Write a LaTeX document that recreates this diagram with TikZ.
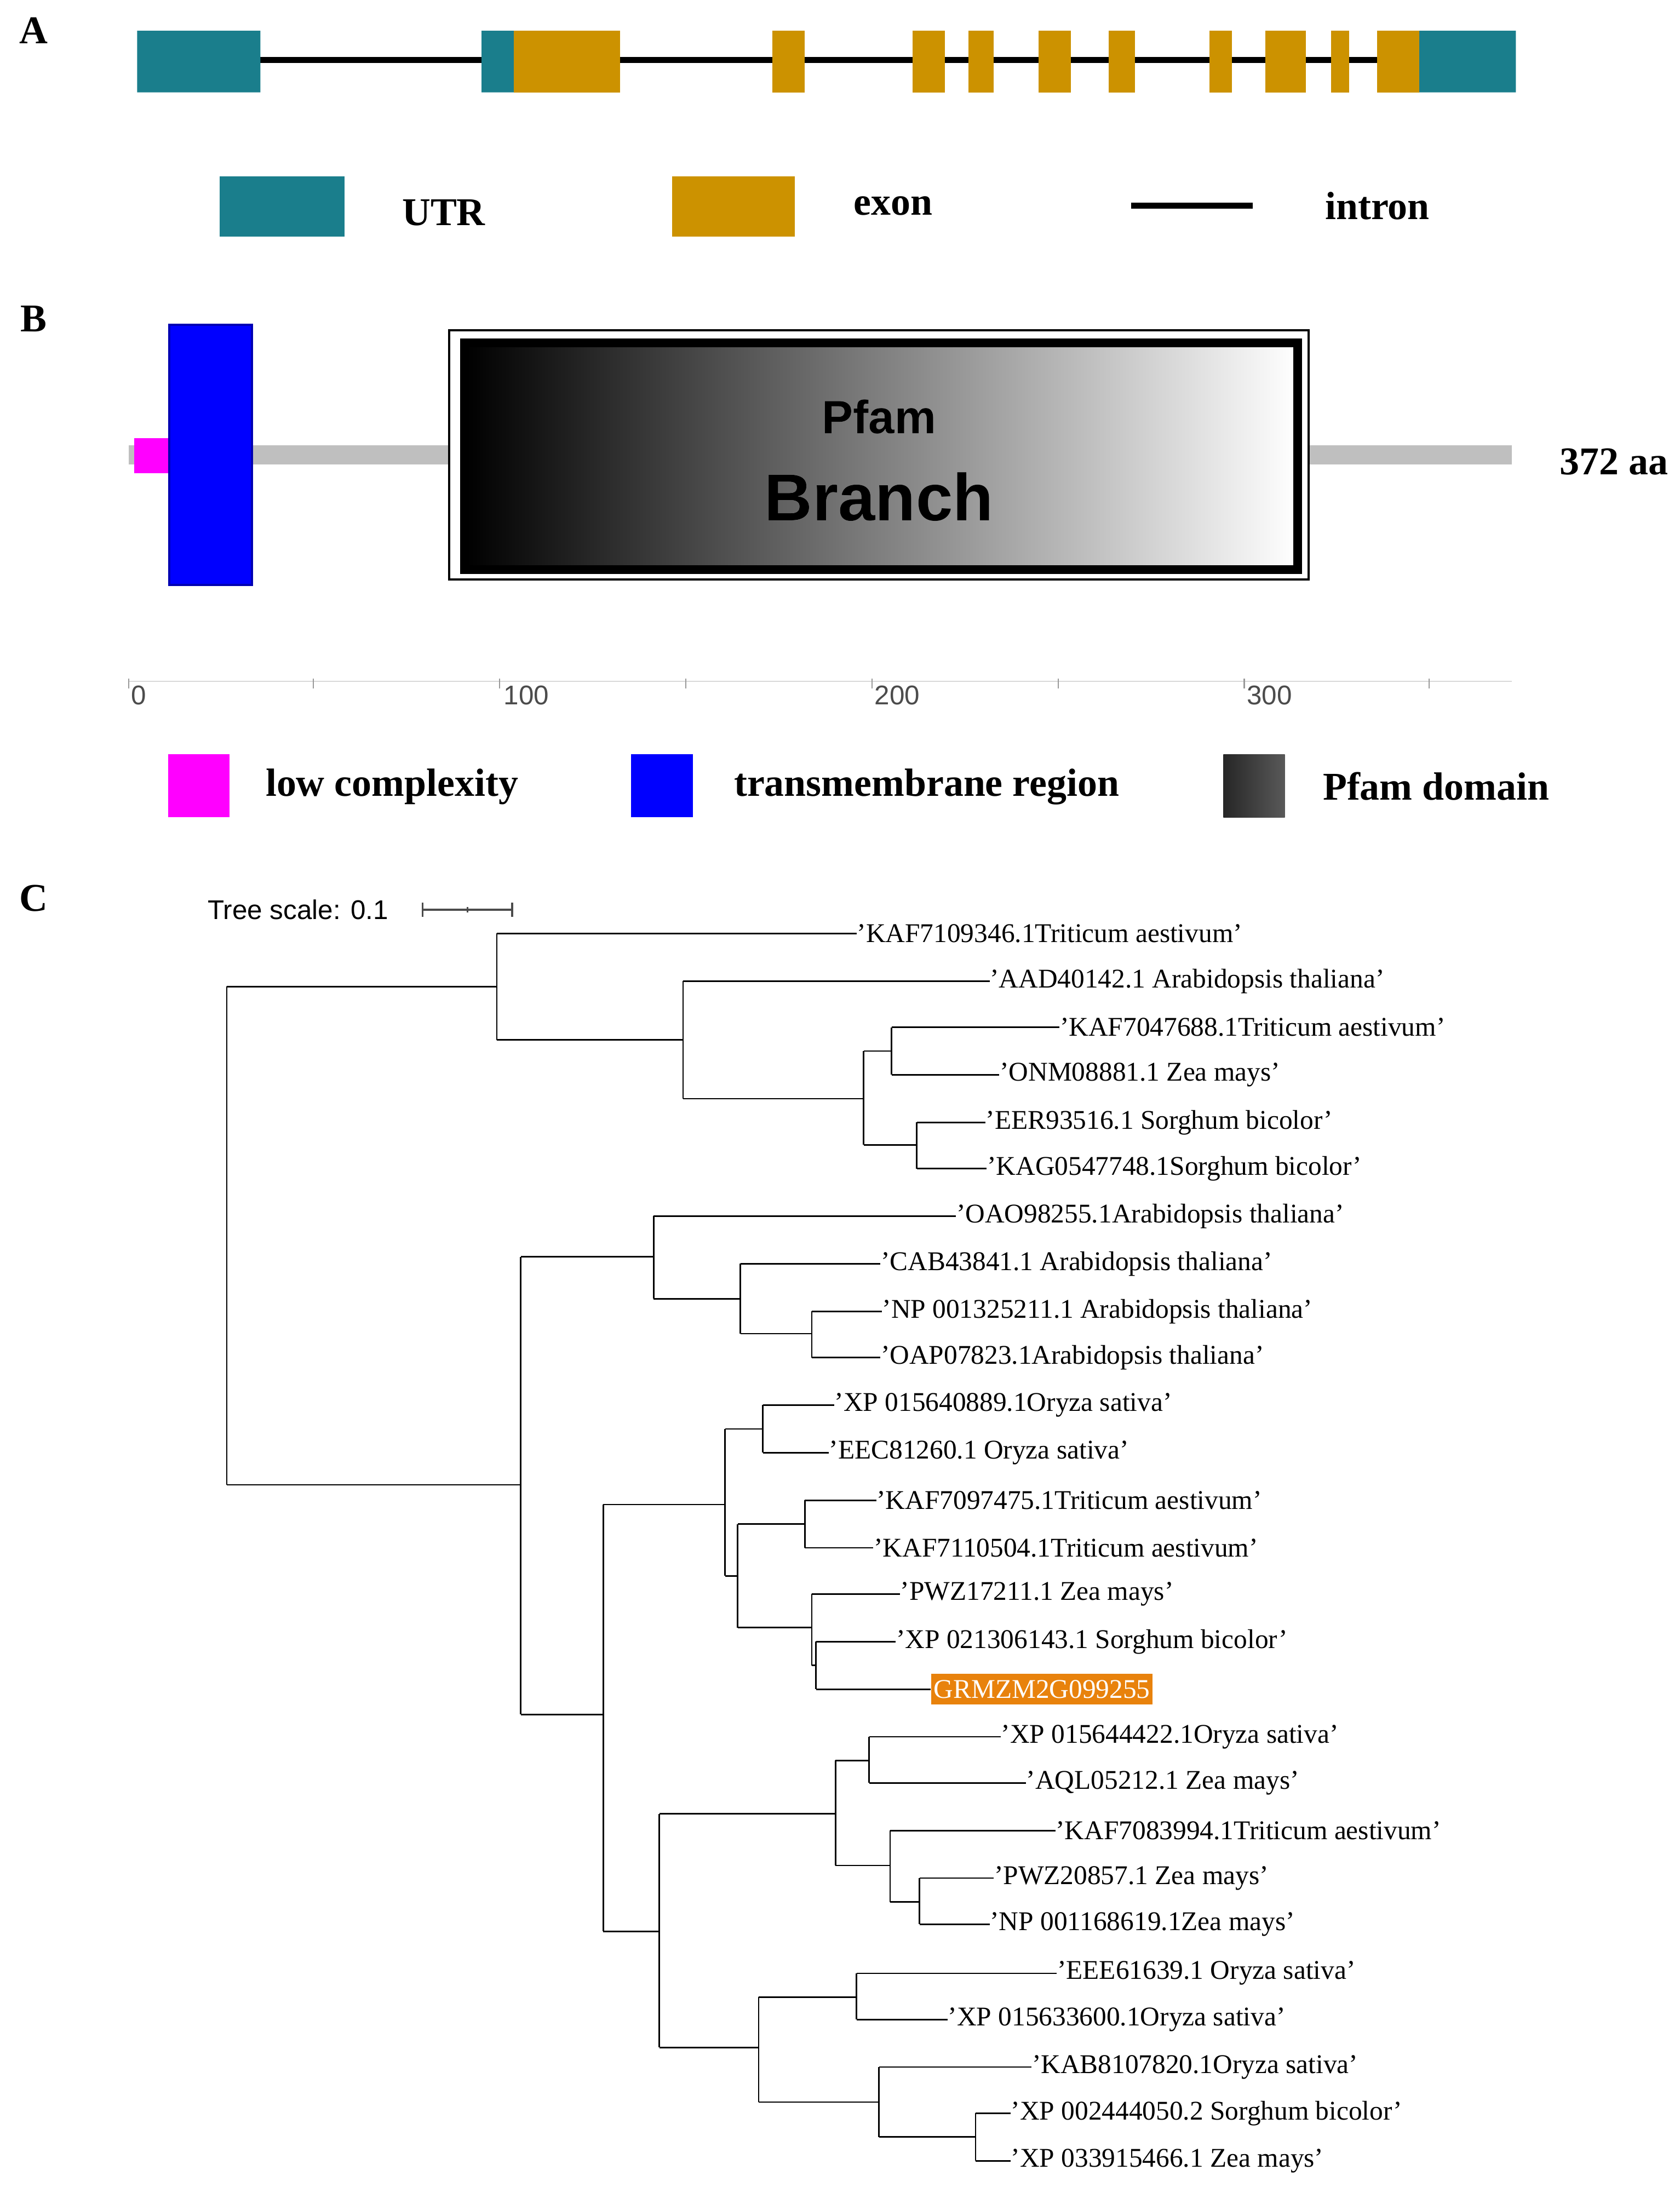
\documentclass[tikz,border=0pt]{standalone}
\usepackage{fontspec}
\setmainfont{Liberation Serif}
\newfontfamily\sansf{Liberation Sans}
\usepackage[outline]{contour}
\contourlength{1.6pt}
\begin{document}
\begin{tikzpicture}[x=0.02cm,y=-0.02cm,
 lab/.style={font=\bfseries\fontsize{16}{18}\selectfont,inner sep=0},
 leg/.style={font=\bfseries\fontsize{16}{18}\selectfont,inner sep=0,anchor=center},
 leaf/.style={anchor=west,inner sep=0,font=\fontsize{11}{12}\selectfont},
 br/.style={line width=0.6pt},
 axl/.style={font=\sansf\fontsize{11}{12}\selectfont,text=black!70,inner sep=0}]
\definecolor{utrc}{HTML}{1A7E8C}
\definecolor{exonc}{HTML}{CC9200}
\definecolor{orng}{HTML}{E8820C}
\definecolor{mag}{RGB}{255,0,255}
\definecolor{blu}{RGB}{0,0,255}
\useasboundingbox[fill=white] (0,0) rectangle (1200,1567);
% ---- A
\node[lab] (lA) at (24,22) {A};
\draw[line width=2.4pt] (186,43) -- (1014,43);
\fill[utrc] (98,22) rectangle (186,66) (344,22) rectangle (367,66) (1014,22) rectangle (1083,66);
\foreach \a/\b in {367/443,552/575,652/675,692/710,742/765,792/811,864/880,904/933,951/964,984/1014}
  \fill[exonc] (\a,22) rectangle (\b,66);
\fill[utrc] (157,126) rectangle (246,169);
\node[leg] (tU) at (317,152) {UTR};
\fill[exonc] (480,126) rectangle (568,169);
\node[leg] (tE) at (638,147) {exon};
\draw[line width=2.4pt] (808,147) -- (895,147);
\node[leg] (tI) at (984,147) {intron};
% ---- B
\node[lab] (lB) at (24,228) {B};
\fill[black!25] (92,318) rectangle (1080,332);
\fill[mag] (96,313) rectangle (122,338);
\draw[fill=blu,draw=blu!70!black,line width=1pt] (121,232) rectangle (180,418);
\draw[fill=white,draw=black,line width=0.8pt] (321,236) rectangle (935,414);
\shade[left color=black,right color=white] (332,245) rectangle (927,407);
\draw[line width=3.5pt] (332,245) rectangle (927,407);
\node[font=\sansf\bfseries\fontsize{19}{20}\selectfont,inner sep=0] (pf) at (628,298) {\contour{white}{Pfam}};
\node[font=\sansf\bfseries\fontsize{27}{28}\selectfont,inner sep=0] (brn) at (628,355) {\contour{white}{Branch}};
\node[lab] (aa) at (1153,330) {372 aa};
\draw[black!15,line width=0.4pt] (92,487) -- (1080,487);
\foreach \t in {92,224,357,490,623,756,889,1021} \draw[black!40,line width=0.5pt] (\t,485) -- (\t,492);
\node[axl] (a0) at (99,497) {0};
\node[axl] (a1) at (376,497) {100};
\node[axl] (a2) at (641,497) {200};
\node[axl] (a3) at (907,497) {300};
\fill[mag] (120,539) rectangle (164,584);
\node[leg] (tl) at (280,562) {low complexity};
\fill[blu] (451,539) rectangle (495,584);
\node[leg] (tt) at (662,562) {transmembrane region};
\shade[left color=black!85,right color=black!65] (874,539) rectangle (918,584);
\node[leg] (tp) at (1026,562) {Pfam domain};
% ---- C
\node[lab] (lC) at (24,642) {C};
\node[font=\sansf\fontsize{11}{12}\selectfont,inner sep=0] (ts) at (213,650) {Tree scale: 0.1};
\draw[black!70,line width=0.8pt] (302,650) -- (366,650) (302,645) -- (302,655) (366,645) -- (366,655) (334,648) -- (334,652);
\newcommand\vl[3]{\draw[br] (#1,#2) -- (#1,#3);}
\newcommand\hl[3]{\draw[br] (#1,#3) -- (#2,#3);}
\newcommand\lf[4]{\draw[br] (#1,#3) -- (#2,#3); \node[leaf] (#4) at (#2,#3)}
\vl{162}{705}{1061}
\hl{162}{355}{705} \hl{162}{372}{1061}
\vl{355}{667}{743}
\lf{355}{612}{667}{L1} {'KAF7109346.1Triticum aestivum'};
\hl{355}{488}{743}
\vl{488}{701}{785}
\lf{488}{707}{701}{L2} {'AAD40142.1 Arabidopsis thaliana'};
\hl{488}{617}{785}
\vl{617}{751}{818}
\hl{617}{637}{751} \vl{637}{734}{768}
\lf{637}{757}{734}{L3} {'KAF7047688.1Triticum aestivum'};
\lf{637}{714}{768}{L4} {'ONM08881.1 Zea mays'};
\hl{617}{655}{818} \vl{655}{802}{835}
\lf{655}{704}{802}{L5} {'EER93516.1 Sorghum bicolor'};
\lf{655}{705}{835}{L6} {'KAG0547748.1Sorghum bicolor'};
\vl{372}{898}{1225}
\hl{372}{467}{898} \vl{467}{869}{928}
\lf{467}{683}{869}{L7} {'OAO98255.1Arabidopsis thaliana'};
\hl{467}{529}{928} \vl{529}{903}{953}
\lf{529}{629}{903}{L8} {'CAB43841.1 Arabidopsis thaliana'};
\hl{529}{580}{953} \vl{580}{937}{970}
\lf{580}{630}{937}{L9} {'NP 001325211.1 Arabidopsis thaliana'};
\lf{580}{629}{970}{L10} {'OAP07823.1Arabidopsis thaliana'};
\hl{372}{431}{1225} \vl{431}{1075}{1380}
\hl{431}{518}{1075} \vl{518}{1021}{1126}
\hl{518}{545}{1021} \vl{545}{1004}{1038}
\lf{545}{596}{1004}{L11} {'XP 015640889.1Oryza sativa'};
\lf{545}{592}{1038}{L12} {'EEC81260.1 Oryza sativa'};
\hl{518}{527}{1126} \vl{527}{1089}{1163}
\hl{527}{575}{1089} \vl{575}{1072}{1106}
\lf{575}{626}{1072}{L13} {'KAF7097475.1Triticum aestivum'};
\lf{575}{624}{1106}{L14} {'KAF7110504.1Triticum aestivum'};
\hl{527}{580}{1163} \vl{580}{1139}{1190}
\lf{580}{643}{1139}{L15} {'PWZ17211.1 Zea mays'};
\hl{580}{583}{1190} \vl{583}{1173}{1207}
\lf{583}{640}{1173}{L16} {'XP 021306143.1 Sorghum bicolor'};
\draw[br] (583,1207) -- (665,1207);
\node[anchor=west,fill=orng,text=white,inner xsep=1pt,inner ysep=1.5pt,font=\fontsize{11}{12}\selectfont,minimum height=22*0.02cm] (L17) at (665,1207) {GRMZM2G099255};
\hl{431}{471}{1380} \vl{471}{1296}{1463}
\hl{471}{597}{1296} \vl{597}{1258}{1333}
\hl{597}{621}{1258} \vl{621}{1241}{1274}
\lf{621}{715}{1241}{L18} {'XP 015644422.1Oryza sativa'};
\lf{621}{733}{1274}{L19} {'AQL05212.1 Zea mays'};
\hl{597}{636}{1333} \vl{636}{1308}{1359}
\lf{636}{754}{1308}{L20} {'KAF7083994.1Triticum aestivum'};
\hl{636}{657}{1359} \vl{657}{1342}{1375}
\lf{657}{710}{1342}{L21} {'PWZ20857.1 Zea mays'};
\lf{657}{707}{1375}{L22} {'NP 001168619.1Zea mays'};
\hl{471}{542}{1463} \vl{542}{1427}{1502}
\hl{542}{612}{1427} \vl{612}{1410}{1443}
\lf{612}{755}{1410}{L23} {'EEE61639.1 Oryza sativa'};
\lf{612}{677}{1443}{L24} {'XP 015633600.1Oryza sativa'};
\hl{542}{628}{1502} \vl{628}{1477}{1527}
\lf{628}{737}{1477}{L25} {'KAB8107820.1Oryza sativa'};
\hl{628}{697}{1527} \vl{697}{1510}{1544}
\lf{697}{722}{1510}{L26} {'XP 002444050.2 Sorghum bicolor'};
\lf{697}{722}{1544}{L27} {'XP 033915466.1 Zea mays'};
\end{tikzpicture}
\end{document}
